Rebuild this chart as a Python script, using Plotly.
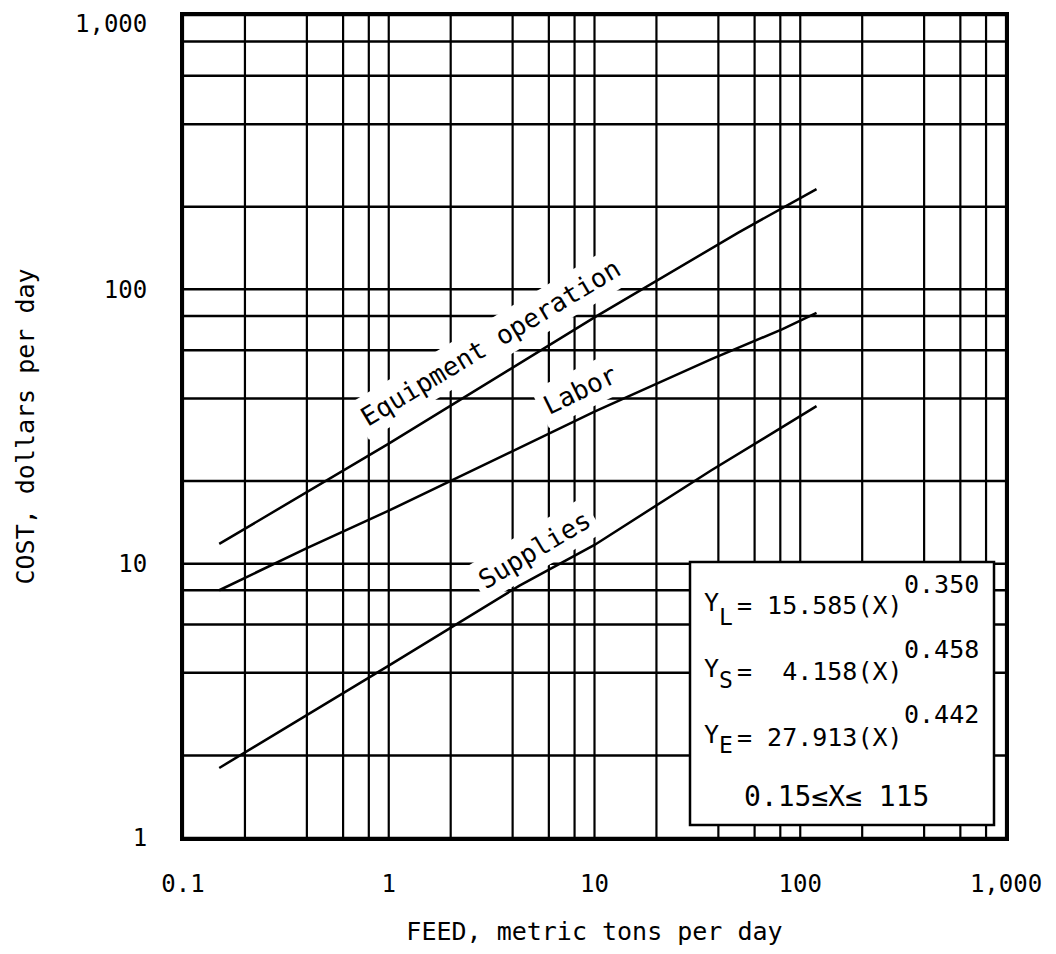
import plotly.graph_objects as go

# ---- axis ticks ----
x_ticks = [0.1, 1, 10, 100, 1000]
x_ticktext = ["0.1", "1", "10", "100", "1,000"]
y_ticks = [1, 10, 100]
y_ticktext = ["1", "10", "100"]
y_top_label = "1,000"   # drawn just under the top edge, like the original

# ---- log-paper grid (1, 2, 4, 6, 8 per decade) ----
grid_mults = [1, 2, 4, 6, 8]
x_decades = [0.1, 1, 10, 100]
y_decades = [1, 10, 100]

# ---- curves ----
equip_x = [0.15, 1, 10, 50, 120]
equip_y = [11.8, 27.4, 79, 161, 232]

labor_x = [0.15, 0.4, 1, 4, 10, 37, 82, 120]
labor_y = [8.0, 11.4, 15.6, 25.8, 35.8, 55.7, 71.6, 82]

supplies_x = [0.15, 0.4, 1, 4.3, 10, 37, 120]
supplies_y = [1.8, 2.8, 4.25, 8.3, 11.7, 21.9, 37.5]

MONO = "DejaVu Sans Mono"

gx = [m * d for d in x_decades for m in grid_mults] + [1000]
gy = [m * d for d in y_decades for m in grid_mults] + [1000]

vx, vy = [], []
for v in gx:
    vx += [v, v, None]
    vy += [1, 1000, None]
hx, hy = [], []
for v in gy:
    hx += [0.1, 1000, None]
    hy += [v, v, None]

fig = go.Figure()
fig.add_trace(go.Scatter(x=vx, y=vy, mode="lines", line=dict(color="black", width=2.2),
                         hoverinfo="skip"))
fig.add_trace(go.Scatter(x=hx, y=hy, mode="lines", line=dict(color="black", width=2.5),
                         hoverinfo="skip"))
for xs, ys in [(equip_x, equip_y), (labor_x, labor_y), (supplies_x, supplies_y)]:
    fig.add_trace(go.Scatter(x=xs, y=ys, mode="lines",
                             line=dict(color="black", width=2.5)))

# page body has an 8px default margin; positions below are in screenshot pixels
OFF = 8
L0, T0, W, H = 183, 15, 823, 823


def px(xp):
    return (xp - L0) / W


def py(yp):
    return (T0 + H - yp) / H


annots = []
annots.append(dict(text=y_top_label, x=px(149), y=py(24), xref="paper", yref="paper",
                   showarrow=False, xanchor="right", yanchor="middle",
                   font=dict(family=MONO, size=24, color="black")))
# curve labels with white background (breaks the grid like the original)
for text, cx, cy, ang in [("Equipment operation", 490, 343, -31),
                          ("Labor", 580, 390, -26),
                          ("Supplies", 534, 550, -31)]:
    annots.append(dict(text=text, x=px(cx), y=py(cy), xref="paper", yref="paper",
                       showarrow=False, textangle=ang, bgcolor="white", borderpad=5,
                       font=dict(family=MONO, size=26, color="black"),
                       xanchor="center", yanchor="middle"))

# equation box content
eq_lines = [("L", "= 15.585(X)", "0.350", 602, 617, 584),
            ("S", "=  4.158(X)", "0.458", 668, 680, 649),
            ("E", "= 27.913(X)", "0.442", 734, 745, 714)]
for sub, rest, sup, yc, ysub, ysup in eq_lines:
    annots.append(dict(text="Y", x=px(702), y=py(yc), xref="paper", yref="paper",
                       showarrow=False, xanchor="left", yanchor="middle",
                       font=dict(family=MONO, size=25, color="black")))
    annots.append(dict(text=sub, x=px(717), y=py(ysub), xref="paper", yref="paper",
                       showarrow=False, xanchor="left", yanchor="middle",
                       font=dict(family=MONO, size=23, color="black")))
    annots.append(dict(text=rest, x=px(735), y=py(yc + 3), xref="paper", yref="paper",
                       showarrow=False, xanchor="left", yanchor="middle",
                       font=dict(family=MONO, size=25, color="black")))
    annots.append(dict(text=sup, x=px(902), y=py(ysup), xref="paper", yref="paper",
                       showarrow=False, xanchor="left", yanchor="middle",
                       font=dict(family=MONO, size=25, color="black")))
annots.append(dict(text="0.15≤X≤ 115", x=px(836), y=py(796), xref="paper", yref="paper",
                   showarrow=False, xanchor="center", yanchor="middle",
                   font=dict(family=MONO, size=28, color="black")))

fig.update_layout(
    width=1056 - 2 * OFF, height=954 - 2 * OFF,
    margin=dict(l=L0 - OFF, r=1056 - 2 * OFF - (L0 - OFF) - W, t=T0 - OFF,
                b=954 - 2 * OFF - (T0 - OFF) - H),
    paper_bgcolor="white", plot_bgcolor="white",
    showlegend=False,
    annotations=annots,
    shapes=[dict(type="rect", xref="paper", yref="paper",
                 x0=px(690), x1=px(994), y0=py(825), y1=py(562),
                 fillcolor="white", line=dict(color="black", width=2.5), layer="above")],
    xaxis=dict(type="log", range=[-1, 3], showgrid=False, zeroline=False,
               showline=True, mirror=True, linecolor="black", linewidth=3,
               ticks="", tickvals=x_ticks, ticktext=x_ticktext, automargin=False,
               ticklabeloverflow="allow",
               tickfont=dict(family=MONO, size=24, color="black"),
               ticklabelstandoff=22,
               title=dict(text="FEED, metric tons per day",
                          font=dict(family=MONO, size=25, color="black"), standoff=28)),
    yaxis=dict(type="log", range=[0, 3], showgrid=False, zeroline=False,
               showline=True, mirror=True, linecolor="black", linewidth=3,
               ticks="", tickvals=y_ticks, ticktext=y_ticktext, automargin=False,
               ticklabeloverflow="allow",
               tickfont=dict(family=MONO, size=24, color="black"),
               ticklabelstandoff=28,
               title=dict(text="COST, dollars per day",
                          font=dict(family=MONO, size=25, color="black"), standoff=63)),
)

fig.write_html("out.html")
